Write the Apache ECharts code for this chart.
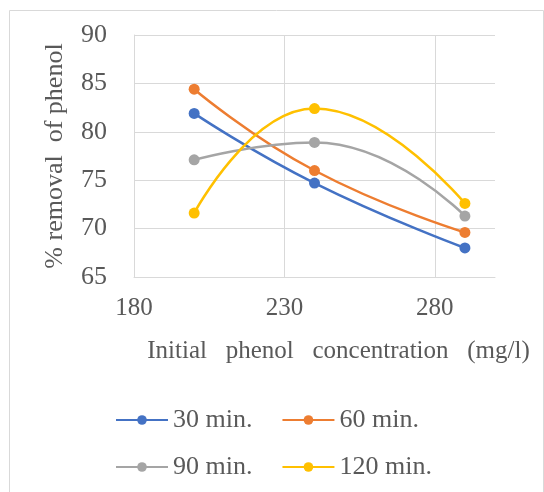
<!DOCTYPE html>
<html>
<head>
<meta charset="utf-8">
<script src="https://cdn.jsdelivr.net/npm/echarts@6/dist/echarts.min.js"></script>
<style>
  html, body { margin: 0; padding: 0; background: #fff; }
  #chart { width: 544px; height: 492px; }
</style>
</head>
<body>
<div id="chart"></div>
<script>
// 初始苯酚浓度 (mg/l)
var concentrations = [200, 240, 290];
var seriesNames = ["30 min.", "60 min.", "90 min.", "120 min."];
var removal30 = [81.9, 74.7, 68.0];
var removal60 = [84.4, 76.0, 69.6];
var removal90 = [77.1, 78.9, 71.3];
var removal120 = [71.6, 82.4, 72.6];
var colors = ["#4472C4", "#ED7D31", "#A5A5A5", "#FFC000"];

var font = "Liberation Serif";
var textColor = "#595959";
var gridColor = "#d9d9d9";

function pairs(ys) {
  return concentrations.map(function (x, i) { return [x, ys[i]]; });
}

var allData = [removal30, removal60, removal90, removal120];

var myChart = echarts.init(document.getElementById("chart"));

var legendText = { fontFamily: font, fontSize: 26, color: textColor };

var option = {
  animation: false,
  graphic: [
    {
      type: "rect",
      left: 7,
      top: 8,
      shape: { width: 534, height: 500 },
      style: { fill: "none", stroke: gridColor, lineWidth: 1 },
      silent: true
    }
  ],
  legend: [
    {
      data: ["30 min.", "60 min."],
      left: 115,
      top: 407,
      padding: 0,
      itemWidth: 52,
      itemHeight: 12,
      itemGap: 29,
      textStyle: legendText
    },
    {
      data: ["90 min.", "120 min."],
      left: 115,
      top: 454,
      padding: 0,
      itemWidth: 52,
      itemHeight: 12,
      itemGap: 29,
      textStyle: legendText
    }
  ],
  grid: {
    left: 134,
    right: 49,
    top: 35,
    bottom: 215,
    containLabel: false
  },
  xAxis: {
    type: "value",
    min: 180,
    max: 300,
    interval: 50,
    name: "Initial   phenol   concentration   (mg/l)",
    nameLocation: "middle",
    nameGap: 62,
    nameTextStyle: {
      fontFamily: font,
      fontSize: 25,
      color: textColor,
      padding: [0, 0, 0, 48]
    },
    axisLine: { show: true, lineStyle: { color: gridColor, width: 1 } },
    axisTick: { show: false },
    axisLabel: {
      fontFamily: font,
      fontSize: 25,
      color: textColor,
      margin: 19,
      showMaxLabel: false
    },
    splitLine: {
      show: true,
      showMaxLine: false,
      lineStyle: { color: gridColor, width: 1 }
    }
  },
  yAxis: {
    type: "value",
    min: 65,
    max: 90,
    interval: 5,
    name: "% removal  of phenol",
    nameLocation: "middle",
    nameGap: 66,
    nameTextStyle: { fontFamily: font, fontSize: 26, color: textColor },
    axisLine: { show: true, lineStyle: { color: gridColor, width: 1 } },
    axisTick: { show: false },
    axisLabel: {
      fontFamily: font,
      fontSize: 26,
      color: textColor,
      margin: 27
    },
    splitLine: { show: true, lineStyle: { color: gridColor, width: 1 } }
  },
  series: seriesNames.map(function (name, i) {
    return {
      name: name,
      type: "line",
      smooth: 0.5,
      symbol: "circle",
      symbolSize: 11,
      color: colors[i],
      lineStyle: { width: 2.5 },
      data: pairs(allData[i])
    };
  })
};

myChart.setOption(option);
</script>
</body>
</html>
